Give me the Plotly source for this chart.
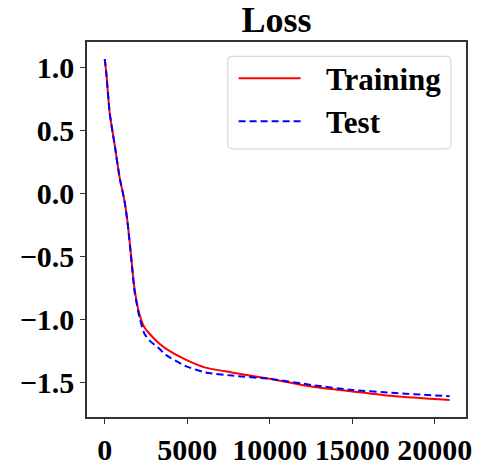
import plotly.graph_objects as go

steps = [0, 100, 300, 600, 900, 1200, 1400, 1600, 1800, 2100, 2400, 2700, 3300,
         3700, 4900, 6100, 7700, 10000, 12600, 15000, 17600, 20900]
train_loss = [1.07, 0.95, 0.64, 0.39, 0.13, -0.06, -0.245, -0.50, -0.75, -0.955,
              -1.06, -1.11, -1.19, -1.23, -1.318, -1.381, -1.419, -1.47, -1.533,
              -1.57, -1.608, -1.638]
test_loss = [1.07, 0.95, 0.64, 0.39, 0.13, -0.06, -0.25, -0.51, -0.77, -0.98,
             -1.11, -1.165, -1.23, -1.28, -1.369, -1.419, -1.444, -1.47, -1.52,
             -1.558, -1.583, -1.608]

x_ticks = [0, 5000, 10000, 15000, 20000]
y_ticks = [1.0, 0.5, 0.0, -0.5, -1.0, -1.5]
series_names = ["Training", "Test"]
series_colors = ["#ff0000", "#0000ff"]
series_dash = ["solid", "7px,4px"]

FONT = "Liberation Serif"
W, H = 481, 475
ML, MR, MT, MB = 87, 9, 42, 40
PW, PH = W - ML - MR, H - MT - MB


def px_x(p):
    return (p - ML) / PW


def px_y(p):
    return (H - MB - p) / PH


fig = go.Figure()
for name, ys, col, dash in zip(series_names, [train_loss, test_loss], series_colors, series_dash):
    fig.add_trace(go.Scatter(x=steps, y=ys, mode="lines", name=name, showlegend=False,
                             line=dict(color=col, width=2, dash=dash,
                                       shape="spline", smoothing=0.5)))

axis_common = dict(showline=True, linecolor="#333333", linewidth=1.5, mirror=True,
                   ticks="outside", ticklen=5, tickwidth=1.2, tickcolor="#333333",
                   showgrid=False, zeroline=False,
                   tickfont=dict(family=FONT, size=30, color="black", weight="bold"))

# legend drawn as a rounded box with long line samples
x0, x1, y0, y1, r = 230, 456.7, 57, 154, 5


def P(xp, yp):
    return f"{px_x(xp):.5f},{px_y(yp):.5f}"


pp = (f"M {P(x0+r,y0)} L {P(x1-r,y0)} Q {P(x1,y0)} {P(x1,y0+r)} L {P(x1,y1-r)} "
      f"Q {P(x1,y1)} {P(x1-r,y1)} L {P(x0+r,y1)} Q {P(x0,y1)} {P(x0,y1-r)} "
      f"L {P(x0,y0+r)} Q {P(x0,y0)} {P(x0+r,y0)} Z")
shapes = [dict(type="path", xref="paper", yref="paper", path=pp,
               line=dict(color="#d9d9d9", width=1.2), fillcolor="rgba(255,255,255,0.9)",
               layer="above")]
annotations = []
for i, (name, col, dash) in enumerate(zip(series_names, series_colors, series_dash)):
    yy = 80 + 45 * i
    shapes.append(dict(type="line", xref="paper", yref="paper",
                       x0=px_x(241), x1=px_x(304), y0=px_y(yy), y1=px_y(yy),
                       line=dict(color=col, width=2, dash=dash), layer="above"))
    annotations.append(dict(text=f"<b>{name}</b>", xref="paper", yref="paper",
                            x=px_x(328), y=px_y(yy + 1), xanchor="left", yanchor="middle",
                            showarrow=False,
                            font=dict(family=FONT, size=31, color="black")))

fig.update_layout(
    width=W, height=H,
    margin=dict(l=ML, r=MR, t=MT, b=MB),
    paper_bgcolor="white", plot_bgcolor="white",
    title=dict(text="<b>Loss</b>", x=0.5, xref="paper", xanchor="center",
               y=1 - 32 / H, yanchor="bottom",
               font=dict(family=FONT, size=36, color="black")),
    xaxis=dict(range=[-1075, 21890], tickvals=x_ticks, tickformat="d", **axis_common),
    yaxis=dict(range=[-1.773, 1.205], tickvals=y_ticks, tickformat=".1f", **axis_common),
    shapes=shapes, annotations=annotations,
    showlegend=False,
)

fig.write_html("out.html")
